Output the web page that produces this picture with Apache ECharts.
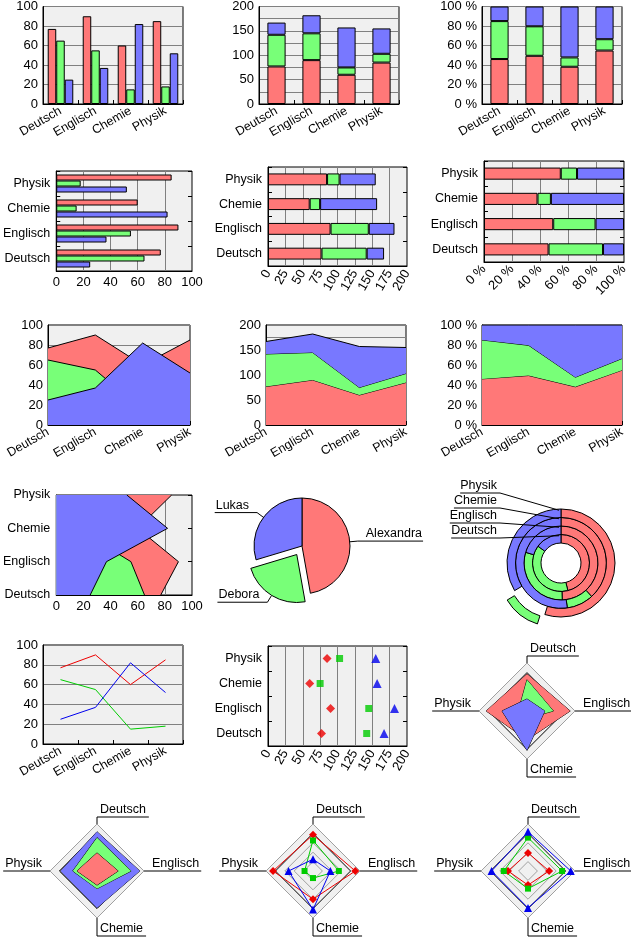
<!DOCTYPE html>
<html><head><meta charset="utf-8">
<script src="https://cdn.jsdelivr.net/npm/echarts@6/dist/echarts.min.js"></script>
<style>html,body{margin:0;padding:0;background:#fff}#c{width:631px;height:939px}</style>
</head><body><div id="c"></div>
<script>
// ---------- data ----------
const categories = ['Deutsch', 'Englisch', 'Chemie', 'Physik'];
const persons = ['Alexandra', 'Debora', 'Lukas'];
const alexandra = [77, 90, 60, 85];
const debora = [65, 55, 15, 18];
const lukas = [25, 37, 82, 52];
const scale100 = { max: 100, interval: 20 };
const scale200 = { max: 200, interval: 25, labelStep: 50 };

// ---------- styles ----------
const fill = ['#ff7878', '#78ff78', '#7878ff'];
const stroke = ['#ee0000', '#00cc00', '#0000ee'];
const symbols = ['diamond', 'rect', 'triangle'];
const symbolSizes = [9, 7, 9];
const FONT = '"Liberation Sans", Arial, sans-serif';
const FS = 12.5;
const CSSFONT = FS + 'px "Liberation Sans", Arial, sans-serif';

// ---------- derived ----------
const values = [alexandra, debora, lukas];
const totals = categories.map((c, i) => values.reduce((a, v) => a + v[i], 0));
const cum = values.map((v, s) => categories.map((c, i) => values.slice(0, s + 1).reduce((a, w) => a + w[i], 0)));
const pct = values.map(v => v.map((x, i) => x / totals[i] * 100));
const personTotals = values.map(v => v.reduce((a, b) => a + b, 0));

function lbl(extra) { return Object.assign({ color: '#000', fontSize: FS, fontFamily: FONT }, extra || {}); }
function grid(l, t, w, h) { return { left: l, top: t, width: w, height: h, show: true, backgroundColor: '#f0f0f0', borderColor: '#000', borderWidth: 1 }; }
function catAx(gi, extra, labelExtra) {
  return Object.assign({
    type: 'category', gridIndex: gi, data: categories,
    axisLine: { show: true, lineStyle: { color: '#000' } },
    axisTick: { show: true, inside: true, length: 4, lineStyle: { color: '#000' } },
    axisLabel: lbl(Object.assign({ margin: 6 }, labelExtra || {})),
    splitLine: { show: false }
  }, extra || {});
}
function valAx(gi, sc, extra, labelExtra) {
  const lab = Object.assign({ margin: 5, fontSize: 13 }, labelExtra || {});
  if (sc.labelStep && !lab.formatter) lab.formatter = v => (v % sc.labelStep === 0 ? String(v) : '');
  return Object.assign({
    type: 'value', gridIndex: gi, min: 0, max: sc.max, interval: sc.interval,
    axisLine: { show: true, lineStyle: { color: '#000' } },
    axisTick: { show: false },
    axisLabel: lbl(lab),
    splitLine: { show: true, lineStyle: { color: '#808080', width: 1 } }
  }, extra || {});
}
function mirrorY(gi, bg) {
  return { type: 'category', gridIndex: gi, data: categories, position: 'right', boundaryGap: bg,
    axisLine: { show: false }, axisTick: { show: true, inside: true, length: 4, lineStyle: { color: '#000' } },
    axisLabel: { show: false }, splitLine: { show: false } };
}
const pctFmt = '{value} %';

const grids = [
  grid(43, 5, 140, 99),    // 0 bars
  grid(259, 5, 140, 99),   // 1 stacked bars
  grid(482, 5, 140, 99),   // 2 percent bars
  grid(52, 171, 140, 100), // 3 h bars
  grid(268, 167, 139, 99), // 4 h stacked
  grid(484, 161, 140, 101),// 5 h percent
  grid(48, 325, 142, 100), // 6 area
  grid(266, 325, 140, 100),// 7 stacked area
  grid(482, 325, 140, 100),// 8 percent area
  grid(52, 495, 140, 100), // 9 h area
  grid(43, 645, 140, 99),  // 10 line
  grid(268, 646, 139, 100) // 11 scatter
];

const xAxis = [
  catAx(0, {}, { rotate: 30 }),
  catAx(1, {}, { rotate: 30 }),
  catAx(2, {}, { rotate: 30 }),
  valAx(3, scale100),
  valAx(4, scale200, {}, { rotate: 60, formatter: '{value}' }),
  valAx(5, scale100, {}, { rotate: 45, formatter: pctFmt }),
  catAx(6, { boundaryGap: false }, { rotate: 30 }),
  catAx(7, { boundaryGap: false }, { rotate: 30 }),
  catAx(8, { boundaryGap: false }, { rotate: 30 }),
  valAx(9, scale100),
  catAx(10, {}, { rotate: 30 }),
  valAx(11, scale200, {}, { rotate: 60, formatter: '{value}' })
];

const yAxis = [
  valAx(0, scale100),
  valAx(1, scale200),
  valAx(2, scale100, {}, { formatter: pctFmt }),
  catAx(3),
  catAx(4),
  catAx(5),
  valAx(6, scale100),
  valAx(7, scale200),
  valAx(8, scale100, {}, { formatter: pctFmt }),
  catAx(9, { boundaryGap: false }),
  valAx(10, scale100),
  catAx(11),
  mirrorY(3, true), mirrorY(4, true), mirrorY(5, true), mirrorY(9, false), mirrorY(11, true)
];

const series = [];
const border = { borderColor: '#000', borderWidth: 1 };
function barS(ax, ay, data, s, extra) {
  series.push(Object.assign({ type: 'bar', xAxisIndex: ax, yAxisIndex: ay, data: data, name: persons[s],
    itemStyle: Object.assign({ color: fill[s] }, border), silent: true }, extra || {}));
}
function areaS(ax, ay, data, s, extra) {
  series.push(Object.assign({ type: 'line', xAxisIndex: ax, yAxisIndex: ay, data: data, name: persons[s],
    symbol: 'none', z: 3 + s, lineStyle: { color: '#000', width: 1 }, itemStyle: { color: fill[s] },
    areaStyle: { color: fill[s], opacity: 1 }, silent: true }, extra || {}));
}
for (let s = 0; s < 3; s++) barS(0, 0, values[s], s, { barGap: '0%', barCategoryGap: '27%' });
for (let s = 0; s < 3; s++) barS(1, 1, values[s], s, { stack: 'b2', barCategoryGap: '48%' });
for (let s = 0; s < 3; s++) barS(2, 2, pct[s], s, { stack: 'b3', barCategoryGap: '48%' });
for (let s = 0; s < 3; s++) barS(3, 3, values[s], s, { barGap: '0%', barCategoryGap: '28%' });
for (let s = 0; s < 3; s++) barS(4, 4, values[s], s, { stack: 'b5', barCategoryGap: '52%' });
for (let s = 0; s < 3; s++) barS(5, 5, pct[s], s, { stack: 'b6', barCategoryGap: '52%' });
for (let s = 0; s < 3; s++) areaS(6, 6, values[s], s);
for (let s = 0; s < 3; s++) areaS(7, 7, values[s], s, { stack: 'a8' });
for (let s = 0; s < 3; s++) areaS(8, 8, pct[s], s, { stack: 'a9' });
for (let s = 0; s < 3; s++) areaS(9, 9, values[s], s);
for (let s = 0; s < 3; s++) series.push({ type: 'line', xAxisIndex: 10, yAxisIndex: 10, data: values[s], name: persons[s],
  symbol: 'none', lineStyle: { color: stroke[s], width: 1 }, itemStyle: { color: stroke[s] }, silent: true });
for (let s = 0; s < 3; s++) series.push({ type: 'scatter', xAxisIndex: 11, yAxisIndex: 11, name: persons[s],
  data: cum[s].map((v, i) => [v, i]), symbol: symbols[s], symbolSize: symbolSizes[s],
  itemStyle: { color: stroke[s] }, silent: true });

// pie
series.push({
  type: 'pie', center: [302, 546], radius: 48, startAngle: 90, clockwise: true,
  selectedMode: 'single', selectedOffset: 10, avoidLabelOverlap: false, silent: true,
  itemStyle: border,
  data: persons.map((p, s) => ({ name: p, value: personTotals[s], selected: s === 1, itemStyle: { color: fill[s] } })),
  label: lbl({ show: true, formatter: '{b}', distanceToLabelLine: 2 }),
  labelLine: { show: true, length: 8, length2: 6, lineStyle: { color: '#000', width: 1 } },
  labelLayout: function (p) {
    const pts = p.labelLinePoints;
    if (!pts) return {};
    const isLeft = pts[2][0] < pts[0][0];
    pts[2][0] = isLeft ? p.labelRect.x - 1 : p.labelRect.x + p.labelRect.width + 1;
    return { labelLinePoints: pts, verticalAlign: 'bottom', dy: -1 };
  }
});

// ring chart
const ringC = [561, 563], ringR0 = 20, ringW = 8.5;
categories.forEach((c, k) => {
  series.push({
    type: 'pie', name: c, center: ringC, radius: [ringR0 + ringW * k, ringR0 + ringW * (k + 1)],
    startAngle: 90, clockwise: true, selectedMode: 'single', selectedOffset: 12, silent: true,
    itemStyle: border, label: { show: false }, labelLine: { show: false },
    data: persons.map((p, s) => ({ name: p, value: values[s][k], selected: k === 3 && s === 1, itemStyle: { color: fill[s] } }))
  });
});

// radars (ECharts places indicators counter-clockwise from top)
const radarOrder = [0, 3, 2, 1]; // top, left, bottom, right
const radarDefs = [
  { c: [527, 711], r: 48, max: 100 },
  { c: [97, 871], r: 47, max: 200 },
  { c: [313, 871], r: 47, max: 100 },
  { c: [528, 871], r: 47, max: 200 }
];
const radar = radarDefs.map(d => ({
  center: d.c, radius: d.r, shape: 'polygon', splitNumber: 5, startAngle: 90,
  indicator: radarOrder.map(i => ({ name: categories[i], max: d.max })),
  axisName: { show: false },
  axisLine: { show: false },
  axisTick: { show: false },
  splitLine: { lineStyle: { color: ['#a0a0a0', '#a0a0a0', '#a0a0a0', '#a0a0a0', '#000'], width: 1 } },
  splitArea: { show: true, areaStyle: { color: ['#f0f0f0'] } }
}));
const reorder = arr => radarOrder.map(i => arr[i]);
series.push({ type: 'radar', radarIndex: 0, silent: true, symbol: 'none',
  data: values.map((v, s) => ({ name: persons[s], value: reorder(v),
    lineStyle: { color: '#000', width: 1 }, areaStyle: { color: fill[s], opacity: 1 }, itemStyle: { color: fill[s] } })) });
series.push({ type: 'radar', radarIndex: 1, silent: true, symbol: 'none',
  data: [2, 1, 0].map(s => ({ name: persons[s], value: reorder(cum[s]),
    lineStyle: { color: '#000', width: 1 }, areaStyle: { color: fill[s], opacity: 1 }, itemStyle: { color: fill[s] } })) });
series.push({ type: 'radar', radarIndex: 2, silent: true,
  data: values.map((v, s) => ({ name: persons[s], value: reorder(v), symbol: symbols[s], symbolSize: symbolSizes[s] - 1,
    lineStyle: { color: stroke[s], width: 1 }, itemStyle: { color: stroke[s] } })) });
series.push({ type: 'radar', radarIndex: 3, silent: true,
  data: cum.map((v, s) => ({ name: persons[s], value: reorder(v), symbol: symbols[s], symbolSize: symbolSizes[s] - 1,
    lineStyle: { color: stroke[s], width: 1 }, itemStyle: { color: stroke[s] } })) });

// ---------- text with underline leaders ----------
const mctx = document.createElement('canvas').getContext('2d');
mctx.font = CSSFONT;
const tw = s => mctx.measureText(s).width;
const graphic = [];
function txt(x, y, s, align) {
  graphic.push({ type: 'text', x: x, y: y, z: 100, silent: true,
    style: { text: s, fill: '#000', font: CSSFONT, textAlign: align || 'left', textVerticalAlign: 'bottom' } });
}
function pline(pts) {
  graphic.push({ type: 'polyline', z: 100, silent: true, shape: { points: pts }, style: { stroke: '#000', lineWidth: 1, fill: null } });
}
radarDefs.forEach(d => {
  const cx = d.c[0], cy = d.c[1], r = d.r;
  const [top, right, bottom, left] = [categories[0], categories[1], categories[2], categories[3]];
  pline([[cx, cy - r], [cx, cy - r - 7], [cx + tw(top) + 6, cy - r - 7]]);
  txt(cx + 3, cy - r - 8, top);
  pline([[cx + r, cy], [cx + r + tw(right) + 10, cy]]);
  txt(cx + r + 8, cy - 1, right);
  pline([[cx, cy + r], [cx, cy + r + 18], [cx + tw(bottom) + 6, cy + r + 18]]);
  txt(cx + 3, cy + r + 17, bottom);
  pline([[cx - r, cy], [cx - r - tw(left) - 10, cy]]);
  txt(cx - r - 8, cy - 1, left, 'right');
});
const ringTextRight = 497;
categories.forEach((c, k) => {
  const uy = ringC[1] - 25 - 15 * k;
  const ey = ringC[1] - (ringR0 + ringW * (k + 0.5)) - 3;
  pline([[ringTextRight - tw(c), uy], [ringTextRight + 3, uy], [ringC[0] - 2, ey]]);
  txt(ringTextRight, uy - 1, c, 'right');
});

const chart = echarts.init(document.getElementById('c'), null, { renderer: 'canvas' });
chart.setOption({
  animation: false,
  backgroundColor: '#fff',
  textStyle: { fontFamily: FONT },
  grid: grids, xAxis: xAxis, yAxis: yAxis, radar: radar, series: series, graphic: graphic
});
</script></body></html>
